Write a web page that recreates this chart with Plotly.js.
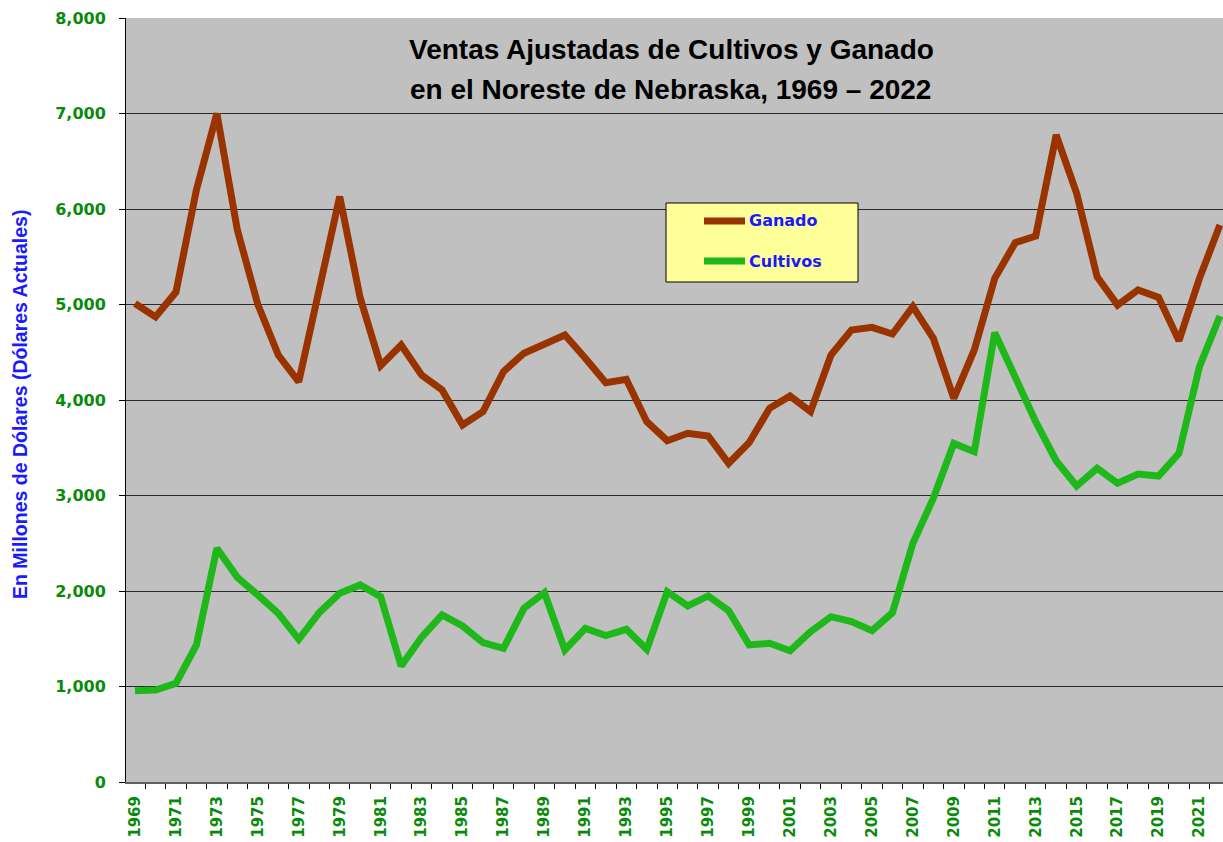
<!DOCTYPE html>
<html>
<head>
<meta charset="utf-8">
<script src="https://cdn.plot.ly/plotly-3.0.1.min.js"></script>
<style>html,body{margin:0;padding:0;background:#fff;}#chart{width:1223px;height:842px;}</style>
</head>
<body>
<div id="chart"></div>
<script>
const years = [];
for (let y = 1969; y <= 2022; y++) years.push(y);

const ganado = [5010,4870,5130,6200,7000,5780,5000,4470,4190,5200,
                6130,5070,4360,4576,4262,4105,3738,3878,4297,4490,
                4586,4681,4437,4181,4217,3773,3574,3651,3623,3337,
                3553,3913,4042,3878,4471,4733,4761,4691,4977,4646,
                4018,4524,5274,5647,5717,6775,6164,5291,4995,5152,
                5075,4621,5274,5832];

const cultivos = [956,963,1034,1435,2447,2143,1958,1766,1494,1773,
                  1976,2063,1941,1215,1515,1749,1634,1459,1400,1819,
                  1982,1382,1609,1534,1599,1389,1993,1843,1948,1794,
                  1435,1452,1375,1574,1731,1679,1584,1773,2499,2971,
                  3545,3459,4705,4244,3773,3364,3099,3285,3128,3225,
                  3204,3442,4349,4880];

const xTickVals = years.filter(y => (y - 1969) % 2 === 0);
const xTickText = xTickVals.map(String);
const yTickVals = [0,1000,2000,3000,4000,5000,6000,7000,8000];

const seriesNames = ['Ganado', 'Cultivos'];
const seriesColors = ['#993300', '#1fb81a'];
const titleLines = ['Ventas Ajustadas de Cultivos y Ganado', 'en el Noreste de Nebraska, 1969 – 2022'];

const traces = [
  {x: years, y: ganado, name: seriesNames[0], type: 'scatter', mode: 'lines',
   line: {color: seriesColors[0], width: 7}},
  {x: years, y: cultivos, name: seriesNames[1], type: 'scatter', mode: 'lines',
   line: {color: seriesColors[1], width: 7}}
];

const green = '#0a8a0a';
const L = 126, T = 18, W = 1097, H = 764;
const px = v => (v - L) / W;
const py = v => (T + H - v) / H;

const layout = {
  width: 1223, height: 842,
  margin: {l: L, r: 0, t: T, b: 842 - T - H, pad: 0},
  paper_bgcolor: '#ffffff',
  plot_bgcolor: '#c0c0c0',
  showlegend: false,
  xaxis: {
    range: [1968.56, 2022.15],
    tickmode: 'array', tickvals: xTickVals, ticktext: xTickText,
    tickangle: -90, ticks: '', ticklabelstandoff: 6,
    tickfont: {family: 'DejaVu Sans', size: 15, color: green, weight: 700},
    showgrid: false, zeroline: false,
    showline: true, linecolor: '#606060', linewidth: 2,
    minor: {tickmode: 'linear', tick0: 1968.5, dtick: 1, ticks: 'outside', ticklen: 5, tickcolor: '#000', tickwidth: 1, showgrid: false},
    fixedrange: true
  },
  yaxis: {
    range: [0, 8000],
    tickmode: 'array', tickvals: yTickVals,
    tickformat: ',',
    ticks: 'outside', ticklen: 6, tickcolor: '#000', tickwidth: 1,
    ticklabelstandoff: 10,
    tickfont: {family: 'DejaVu Sans', size: 16, color: green, weight: 700},
    showgrid: true, gridcolor: '#2a2a2a', gridwidth: 1,
    zeroline: false,
    showline: true, linecolor: '#000', linewidth: 1,
    fixedrange: true
  },
  shapes: [
    {type: 'rect', xref: 'paper', yref: 'paper', x0: px(666), x1: px(858), y0: py(282), y1: py(203),
     fillcolor: '#ffff99', line: {color: '#000', width: 1}, layer: 'above'},
    {type: 'line', xref: 'paper', yref: 'paper', x0: px(704), x1: px(745), y0: py(221), y1: py(221),
     line: {color: seriesColors[0], width: 7}, layer: 'above'},
    {type: 'line', xref: 'paper', yref: 'paper', x0: px(704), x1: px(745), y0: py(261), y1: py(261),
     line: {color: seriesColors[1], width: 7}, layer: 'above'}
  ],
  annotations: [
    {text: titleLines[0],
     xref: 'paper', yref: 'paper', x: px(671), y: py(49), xanchor: 'center', yanchor: 'middle',
     showarrow: false,
     font: {family: 'Liberation Sans, Arial, sans-serif', size: 28, color: '#000', weight: 700}},
    {text: titleLines[1],
     xref: 'paper', yref: 'paper', x: px(670), y: py(90), xanchor: 'center', yanchor: 'middle',
     showarrow: false,
     font: {family: 'Liberation Sans, Arial, sans-serif', size: 28, color: '#000', weight: 700}},
    {text: 'En Millones de Dólares (Dólares Actuales)', textangle: -90,
     xref: 'paper', yref: 'paper', x: px(20), y: py(405), xanchor: 'center', yanchor: 'middle',
     showarrow: false,
     font: {family: 'Liberation Sans Narrow, Liberation Sans, Arial, sans-serif', size: 19.5, color: '#1a1aff', weight: 700}},
    {text: seriesNames[0], xref: 'paper', yref: 'paper', x: px(747), y: py(221), xanchor: 'left', yanchor: 'middle',
     showarrow: false, font: {family: 'DejaVu Sans', size: 16, color: '#1a1aff', weight: 700}},
    {text: seriesNames[1], xref: 'paper', yref: 'paper', x: px(747), y: py(261), xanchor: 'left', yanchor: 'middle',
     showarrow: false, font: {family: 'DejaVu Sans', size: 16, color: '#1a1aff', weight: 700}}
  ]
};

Plotly.newPlot('chart', traces, layout, {displayModeBar: false, staticPlot: true});
</script>
</body>
</html>
